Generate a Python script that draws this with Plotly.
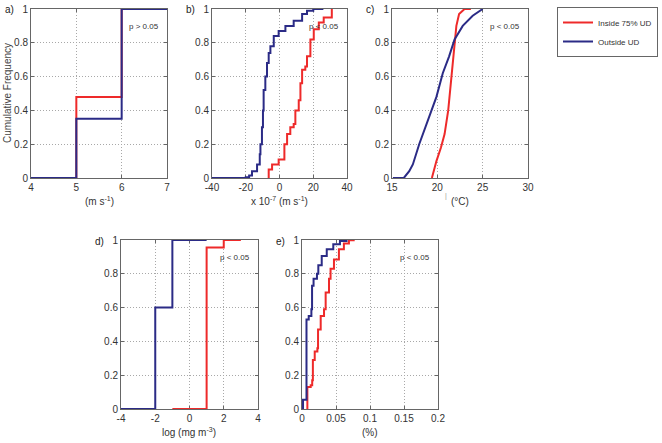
import plotly.graph_objects as go

W, H = 662, 443
RED = "#ee2a2a"
BLUE = "#2b2b86"

# Panel a (wind speed, m s-1) - step ECDF
a_in_x = [4, 5, 5, 6, 6, 7]
a_in_y = [0, 0, 0.48, 0.48, 1, 1]
a_out_x = [4, 5, 5, 6, 6, 7]
a_out_y = [0, 0, 0.35, 0.35, 1, 1]

# Panel b (x 10^-7 m s-1)
b_out_x = [-40, -20, -18, -16.3, -13.3, -11.7, -11.3, -10.4, -9.8, -9.4, -8.4, -7.4, -6.4, -5.4, -3.4, -0.5, 3.5, 8.4, 13.4, 16.3, 20, 26]
b_out_y = [0, 0.005, 0.015, 0.04, 0.08, 0.14, 0.2, 0.3, 0.4, 0.52, 0.6, 0.68, 0.74, 0.78, 0.84, 0.87, 0.9, 0.93, 0.97, 0.99, 1.0, 1.0]
b_in_x = [-6.4, -6.4, -4.4, -0.5, 2.9, 2.9, 4.5, 6.4, 8.4, 9.4, 11.4, 12.4, 13.4, 15.3, 16.3, 18.3, 20.3, 23.3, 26.2, 31.0, 31.0]
b_in_y = [0, 0.05, 0.08, 0.11, 0.11, 0.2, 0.26, 0.3, 0.32, 0.4, 0.46, 0.56, 0.64, 0.66, 0.72, 0.82, 0.88, 0.92, 0.95, 0.95, 1.0]

# Panel c (degC)
c_out_x = [15.1, 16.3, 16.9, 17.3, 18.0, 18.8, 19.9, 20.6, 21.3, 21.9, 22.8, 23.9, 25.0]
c_out_y = [0, 0, 0.04, 0.08, 0.2, 0.32, 0.48, 0.62, 0.72, 0.82, 0.9, 0.96, 1.0]
c_in_x = [19.4, 19.9, 20.4, 20.8, 21.2, 21.5, 21.8, 22.1, 22.4, 23.0, 23.7]
c_in_y = [0, 0.1, 0.18, 0.26, 0.4, 0.56, 0.76, 0.9, 0.97, 1.0, 1.0]

# Panel d (log mg m-3) - step ECDF
d_in_x = [-1, 1, 1, 2, 2, 3]
d_in_y = [0, 0, 0.955, 0.955, 1, 1]
d_out_x = [-4, -2, -2, -1, -1, 1]
d_out_y = [0, 0, 0.6, 0.6, 1, 1]

# Panel e (%)
e_out_x = [0.0005, 0.0015, 0.0066, 0.0066, 0.0099, 0.0138, 0.0148, 0.017, 0.022, 0.024, 0.029, 0.0364, 0.046, 0.0558, 0.0655]
e_out_y = [0, 0.055, 0.055, 0.53, 0.55, 0.59, 0.73, 0.77, 0.80, 0.85, 0.905, 0.945, 0.975, 0.994, 1.0]
e_in_x = [0.0064, 0.0079, 0.0128, 0.015, 0.016, 0.0187, 0.0226, 0.0236, 0.0275, 0.0324, 0.0348, 0.0397, 0.042, 0.047, 0.0543, 0.0616, 0.069, 0.076]
e_in_y = [0, 0.13, 0.14, 0.17, 0.29, 0.34, 0.36, 0.47, 0.55, 0.59, 0.69, 0.77, 0.83, 0.885, 0.945, 0.98, 0.998, 1.0]

panel_labels = ["a)", "b)", "c)", "d)", "e)"]
p_texts = ["p > 0.05", "p < 0.05", "p < 0.05", "p < 0.05", "p < 0.05"]
x_titles = ["(m s<sup>-1</sup>)", "x 10<sup>-7</sup> (m s<sup>-1</sup>)", "(°C)", "log (mg m<sup>-3</sup>)", "(%)"]
x_ranges = [[4, 7], [-40, 40], [15, 30], [-4, 4], [0, 0.2]]
x_ticks = [[4, 5, 6, 7], [-40, -20, 0, 20, 40], [15, 20, 25, 30], [-4, -2, 0, 2, 4], [0, 0.05, 0.1, 0.15, 0.2]]
x_ticktext = [["4", "5", "6", "7"], ["-40", "-20", "0", "20", "40"], ["15", "20", "25", "30"],
              ["-4", "-2", "0", "2", "4"], ["0", "0.05", "0.1", "0.15", "0.2"]]
y_ticks = [0, 0.2, 0.4, 0.6, 0.8, 1]
y_ticktext = ["0", "0.2", "0.4", "0.6", "0.8", "1"]

# pixel boxes (left, right, top, bottom)
boxes = [(31, 167, 9, 178), (212, 347, 9, 178), (392, 528, 9, 178),
         (121, 258, 240, 409), (302, 438, 240, 409)]

data = [
    (a_in_x, a_in_y, a_out_x, a_out_y, "hv"),
    (b_in_x, b_in_y, b_out_x, b_out_y, "hv"),
    (c_in_x, c_in_y, c_out_x, c_out_y, "linear"),
    (d_in_x, d_in_y, d_out_x, d_out_y, "linear"),
    (e_in_x, e_in_y, e_out_x, e_out_y, "hv"),
]

fig = go.Figure()
layout = dict(width=W, height=H, autosize=False, margin=dict(l=0, r=0, t=0, b=0, autoexpand=False),
              paper_bgcolor="white", plot_bgcolor="white",
              font=dict(family="Liberation Sans, Arial, sans-serif", size=10, color="#333333"))
annotations = []
TICKFONT = dict(family="Liberation Sans, Arial, sans-serif", size=10, color="#333333")

for i, ((l, r, t, b), (ix, iy, ox, oy, shape)) in enumerate(zip(boxes, data)):
    n = "" if i == 0 else str(i + 1)
    xa, ya = "x" + n, "y" + n
    fig.add_trace(go.Scatter(x=ix, y=iy, mode="lines", line=dict(color=RED, width=2, shape=shape),
                             name="Inside 75% UD", showlegend=(i == 0), legendgroup="in",
                             xaxis=xa, yaxis=ya))
    fig.add_trace(go.Scatter(x=ox, y=oy, mode="lines", line=dict(color=BLUE, width=2, shape=shape),
                             name="Outside UD", showlegend=(i == 0), legendgroup="out",
                             xaxis=xa, yaxis=ya))
    common = dict(showline=True, linecolor="#666666", linewidth=1, mirror="ticks",
                  ticks="inside", ticklen=3, tickcolor="#666666", automargin=False,
                  showgrid=True, gridcolor="#a8a8a8", griddash="1px,2px", gridwidth=1,
                  zeroline=False, tickfont=TICKFONT, fixedrange=True, layer="below traces")
    layout["xaxis" + n] = dict(domain=[l / W, r / W], anchor=ya, range=x_ranges[i],
                               tickvals=x_ticks[i], ticktext=x_ticktext[i], **common)
    layout["yaxis" + n] = dict(domain=[1 - b / H, 1 - t / H], anchor=xa, range=[0, 1],
                               tickvals=y_ticks, ticktext=y_ticktext, **common)
    # panel label
    annotations.append(dict(text=panel_labels[i], x=(l - 28) / W, y=1 - (t + 1) / H, xref="paper", yref="paper",
                            xanchor="left", yanchor="middle", showarrow=False,
                            font=dict(size=10, color="#222222")))
    # p-value text
    annotations.append(dict(text=p_texts[i], x=(r - 6) / W, y=1 - (t + 17) / H, xref="paper", yref="paper",
                            xanchor="right", yanchor="middle", showarrow=False,
                            font=dict(size=8, color="#333333")))
    # x title
    annotations.append(dict(text=x_titles[i], x=(l + r) / 2 / W, y=1 - (b + 23) / H, xref="paper", yref="paper",
                            xanchor="center", yanchor="middle", showarrow=False,
                            font=dict(size=10, color="#333333")))

annotations.append(dict(text="Cumulative Frequency", x=7 / W, y=1 - 93 / H, xref="paper", yref="paper",
                        textangle=-90, xanchor="center", yanchor="middle", showarrow=False,
                        font=dict(size=10, color="#444444")))
annotations.append(dict(text="|", x=446 / W, y=1 - 196 / H, xref="paper", yref="paper",
                        xanchor="center", yanchor="middle", showarrow=False,
                        font=dict(size=7, color="#999999")))

layout["annotations"] = annotations
layout["showlegend"] = True
layout["legend"] = dict(x=557 / W, y=1 - 7 / H, xanchor="left", yanchor="top",
                        bordercolor="#666666", borderwidth=1, bgcolor="white",
                        font=dict(size=8, color="#333333"), tracegroupgap=0,
                        itemwidth=30)
fig.update_layout(**layout)
fig.write_html("out.html", config={"displayModeBar": False},
               post_script="document.body.style.margin='0';document.body.style.overflow='hidden';")
